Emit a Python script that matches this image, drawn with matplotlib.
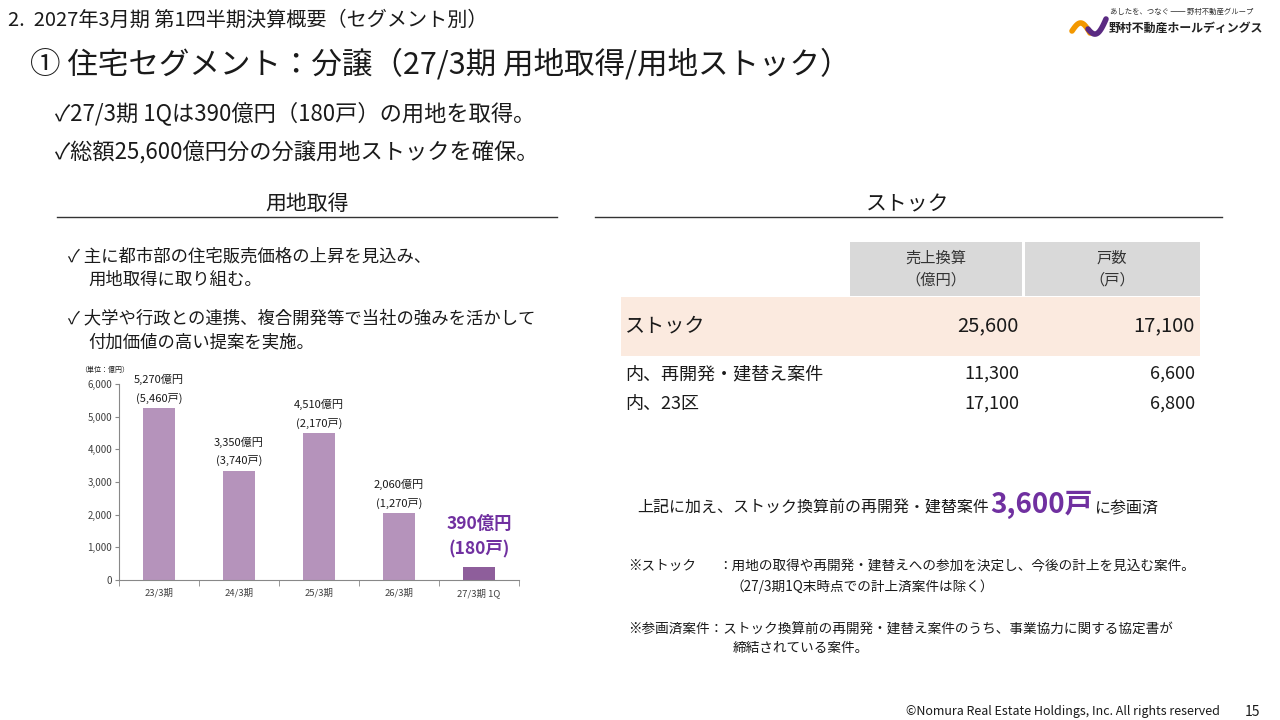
import numpy as np
import matplotlib
matplotlib.use("Agg")
import matplotlib.pyplot as plt
from matplotlib.patches import Rectangle

plt.rcParams['font.family'] = ['Noto Sans CJK JP', 'DejaVu Sans']

# bar chart data
categories = ["23/3期", "24/3期", "25/3期", "26/3期", "27/3期 1Q"]
amounts = [5270, 3350, 4510, 2060, 390]      # 億円
units = [5460, 3740, 2170, 1270, 180]        # 戸
y_ticks = [0, 1000, 2000, 3000, 4000, 5000, 6000]

# stock table data
stock_rows = ["ストック", "内、再開発・建替え案件", "内、23区"]
sales_values = [25600, 11300, 17100]
unit_values = [17100, 6600, 6800]
extra_units = 3600

TEXT = "#1a1a1a"
PURPLE = "#7030a0"
BAR = "#b593bb"
BAR_LAST = "#8e5e9b"

fig = plt.figure(figsize=(12.8, 7.2), dpi=100)
bg = fig.add_axes([0, 0, 1, 1])
bg.set_xlim(0, 1280)
bg.set_ylim(720, 0)
bg.axis("off")

# header
bg.text(8, 20, "2.  2027年3月期 第1四半期決算概要（セグメント別）", fontsize=14.5, color=TEXT, va="center")
bg.text(30, 65, "① 住宅セグメント：分譲（27/3期 用地取得/用地ストック）", fontsize=22, color=TEXT, va="center")
bg.text(55, 113, "✓27/3期 1Qは390億円（180戸）の用地を取得。", fontsize=16, color=TEXT, va="center")
bg.text(55, 153, "✓総額25,600億円分の分譲用地ストックを確保。", fontsize=16, color=TEXT, va="center")

# logo
t = np.linspace(0, 1, 30)
bg.plot(1072 + 18 * t, 31 - 9 * np.sin(np.pi * t) + 2 * t, color="#f39800", lw=4, solid_capstyle="round")
bg.plot(1088 + 18 * t, 29 + 7 * np.sin(np.pi * t) - 10 * t ** 2, color="#5a2a82", lw=4, solid_capstyle="round")
bg.text(1110, 12, "あしたを、つなぐ ── 野村不動産グループ", fontsize=5.3, color="#333333", va="center")
bg.text(1109, 28, "野村不動産ホールディングス", fontsize=8.6, color="#222222", va="center", fontweight="bold")

# section headers
bg.text(307, 204, "用地取得", fontsize=15, color=TEXT, ha="center", va="center")
bg.plot([57, 557], [217, 217], color="#333333", lw=1)
bg.text(908, 204, "ストック", fontsize=15, color=TEXT, ha="center", va="center")
bg.plot([595, 1222], [217, 217], color="#333333", lw=1)

# left bullets
bg.text(68, 257, "✓ 主に都市部の住宅販売価格の上昇を見込み、", fontsize=12.5, color=TEXT, va="center")
bg.text(88, 280, "用地取得に取り組む。", fontsize=12.5, color=TEXT, va="center")
bg.text(68, 318, "✓ 大学や行政との連携、複合開発等で当社の強みを活かして", fontsize=12.5, color=TEXT, va="center")
bg.text(88, 342, "付加価値の高い提案を実施。", fontsize=12.5, color=TEXT, va="center")
bg.text(80, 370, "（単位：億円）", fontsize=5, color=TEXT, va="center")

# bar chart
ax = fig.add_axes([119 / 1280, 1 - 580 / 720, 400 / 1280, 196 / 720])
x = np.arange(len(categories))
colors = [BAR] * (len(categories) - 1) + [BAR_LAST]
ax.bar(x, amounts, width=0.4, color=colors)
ax.set_xlim(-0.5, len(categories) - 0.5)
ax.set_ylim(0, 6000)
ax.set_yticks(y_ticks)
ax.set_yticklabels([f"{v:,}" for v in y_ticks], fontsize=7, color="#404040")
ax.set_xticks(x)
ax.set_xticklabels(categories, fontsize=6.8, color="#404040")
ax.set_xticks(np.arange(-0.5, len(categories)), minor=True)
ax.tick_params(axis="x", which="major", length=0, pad=6)
ax.tick_params(axis="x", which="minor", length=4, color="#888888")
ax.tick_params(axis="y", length=3, color="#888888", pad=2)
for s in ["top", "right"]:
    ax.spines[s].set_visible(False)
for s in ["left", "bottom"]:
    ax.spines[s].set_color("#888888")
    ax.spines[s].set_linewidth(0.8)

for i, (a, u) in enumerate(zip(amounts, units)):
    if i < len(amounts) - 1:
        ax.annotate(f"{a:,}億円\n({u:,}戸)", xy=(i, a), xytext=(0, 3), textcoords="offset points",
                    ha="center", va="bottom", fontsize=8, color=TEXT, linespacing=1.8)
    else:
        ax.annotate(f"{a:,}億円\n({u:,}戸)", xy=(i, a), xytext=(0, 6), textcoords="offset points",
                    ha="center", va="bottom", fontsize=12.5, color=PURPLE, fontweight="bold", linespacing=1.6)

# stock table
bg.add_patch(Rectangle((850, 242), 172, 54, color="#d9d9d9", lw=0))
bg.add_patch(Rectangle((1025, 242), 175, 54, color="#d9d9d9", lw=0))
bg.text(936, 269, "売上換算\n（億円）", fontsize=11, color="#333333", ha="center", va="center", linespacing=1.4)
bg.text(1112, 269, "戸数\n（戸）", fontsize=11, color="#333333", ha="center", va="center", linespacing=1.4)
bg.add_patch(Rectangle((621, 297), 579, 59, color="#fbeadf", lw=0))

row_y = [326, 374, 404]
row_fs = [14.5, 13, 13]
for label, sv, uv, yy, fs in zip(stock_rows, sales_values, unit_values, row_y, row_fs):
    bg.text(625, yy, label, fontsize=fs, color=TEXT, va="center")
    bg.text(1019, yy, f"{sv:,}", fontsize=fs, color=TEXT, va="center", ha="right")
    bg.text(1195, yy, f"{uv:,}", fontsize=fs, color=TEXT, va="center", ha="right")

# additional note
t1 = bg.text(637, 513, "上記に加え、ストック換算前の再開発・建替案件", fontsize=11.5, color=TEXT, va="baseline")
fig.canvas.draw()
r = fig.canvas.get_renderer()
inv = bg.transData.inverted()
x1 = inv.transform(t1.get_window_extent(r))[1][0]
t2 = bg.text(x1 + 1, 513, f"{extra_units:,}戸", fontsize=20, color=PURPLE, fontweight="bold", va="baseline")
x2 = inv.transform(t2.get_window_extent(r))[1][0]
bg.text(x2 + 2, 513, "に参画済", fontsize=11.5, color=TEXT, va="baseline")

bg.text(628, 566, "※ストック", fontsize=9.8, color=TEXT, va="center")
bg.text(718, 566, "：用地の取得や再開発・建替えへの参加を決定し、今後の計上を見込む案件。", fontsize=9.8, color=TEXT, va="center")
bg.text(730, 587, "（27/3期1Q末時点での計上済案件は除く）", fontsize=9.8, color=TEXT, va="center")
bg.text(628, 630, "※参画済案件：ストック換算前の再開発・建替え案件のうち、事業協力に関する協定書が", fontsize=9.8, color=TEXT, va="center")
bg.text(733, 648, "締結されている案件。", fontsize=9.8, color=TEXT, va="center")

# footer
bg.text(1220, 712, "©Nomura Real Estate Holdings, Inc. All rights reserved", fontsize=9, color=TEXT, ha="right", va="center")
bg.text(1252, 712, "15", fontsize=10, color=TEXT, ha="center", va="center")

fig.savefig("out.png", dpi=100)
